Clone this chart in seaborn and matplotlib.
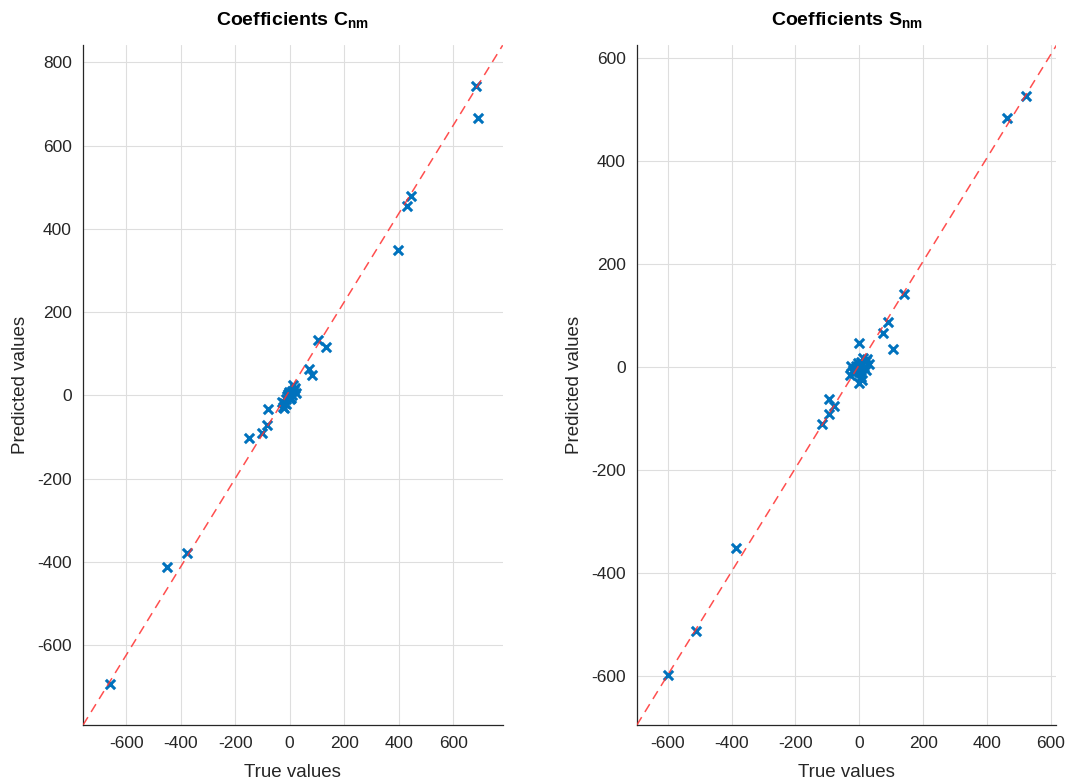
import matplotlib
matplotlib.use('Agg')
import matplotlib.pyplot as plt
import seaborn as sns

# coefficients C_nm: true vs predicted
c_true = [685, 690, 447, 432, 396, 106, 132, 73, 81, 11, -81, -22, -84, -103, -150,
          -451, -377, -659, -26, -29,
          -12, -5, 3, 8, -20, 15, -8, 20, 5, -15, 25, 0, 10, -3]
c_pred = [742, 665, 480, 454, 350, 132, 115, 62, 48, 24, -34, -31, -72, -91, -103,
          -413, -379, -694, -29, -17,
          -10, 2, 5, 10, -18, 12, -2, 18, -6, -22, 5, -8, 0, 8]

# coefficients S_nm: true vs predicted
s_true = [524, 464, 141, 91, 75, 0, 107, 0, -94, -78, -94, -116, -511, -598, -385,
          -20, -10, 0, 10, 20, -30, 15, 5, -5, 25, -15, 8, 30, -25, 3, 12, -8, 22, -2, 6]
s_pred = [525, 483, 141, 87, 66, 47, 35, -31, -62, -76, -91, -110, -512, -597, -350,
          -5, 2, -10, 5, 12, -15, 0, -20, 8, 15, -12, -25, 5, 3, -8, 18, -3, -5, 0, 10]

c_xlim = [-758, 782]
c_ylim = [-792, 841]
s_xlim = [-697, 618]
s_ylim = [-694, 624]

c_xticks = [-600, -400, -200, 0, 200, 400, 600]
c_yticks = [-600, -400, -200, 0, 200, 400, 600, 800]
s_xticks = [-600, -400, -200, 0, 200, 400, 600]
s_yticks = [-600, -400, -200, 0, 200, 400, 600]

sns.set_style('white')
plt.rcParams['font.family'] = ['Liberation Sans', 'DejaVu Sans']
plt.rcParams['axes.unicode_minus'] = False
plt.rcParams['mathtext.fontset'] = 'custom'
plt.rcParams['mathtext.bf'] = 'Liberation Sans:bold'
plt.rcParams['mathtext.rm'] = 'Liberation Sans'

fig = plt.figure(figsize=(10.65, 7.84), dpi=100)
ax1 = fig.add_axes([0.078, 0.0753, 0.394, 0.867])
ax2 = fig.add_axes([0.598, 0.0753, 0.394, 0.867])


def draw_panel(ax, xt, yp, xlim, ylim, xticks, yticks, title):
    ax.set_xlim(xlim)
    ax.set_ylim(ylim)
    ax.plot(xlim, ylim, linestyle=(0, (6, 4)), color='#ff3030', alpha=0.85, lw=1.1, zorder=3)
    sns.scatterplot(x=xt, y=yp, ax=ax, marker='x', s=45, color='#0072BD',
                    linewidth=2.2, zorder=2)
    ax.set_xticks(xticks)
    ax.set_yticks(yticks)
    ax.grid(True, color='#dedede', lw=0.8)
    ax.set_axisbelow(True)
    for side in ['top', 'right']:
        ax.spines[side].set_visible(False)
    for side in ['left', 'bottom']:
        ax.spines[side].set_color('#262626')
        ax.spines[side].set_linewidth(0.9)
    ax.tick_params(direction='in', length=5, width=0.9, color='#262626',
                   labelcolor='#262626', labelsize=12.5, pad=8)
    ax.set_xlabel('True values', fontsize=13.5, color='#262626', labelpad=9)
    ax.set_ylabel('Predicted values', fontsize=13.5, color='#262626', labelpad=6)
    ax.set_title(title, fontsize=14, fontweight='bold', color='black', pad=14)


draw_panel(ax1, c_true, c_pred, c_xlim, c_ylim, c_xticks, c_yticks,
           r'Coefficients C$_\mathbf{nm}$')
draw_panel(ax2, s_true, s_pred, s_xlim, s_ylim, s_xticks, s_yticks,
           r'Coefficients S$_\mathbf{nm}$')

fig.savefig('out.png', dpi=100)
